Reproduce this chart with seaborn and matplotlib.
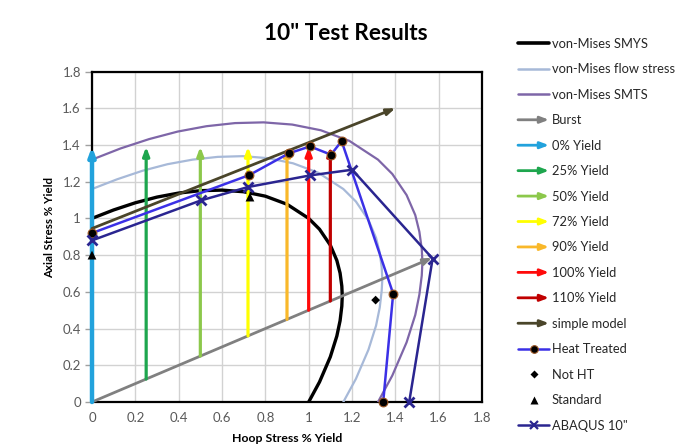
import matplotlib
matplotlib.use("Agg")
import matplotlib.pyplot as plt
import matplotlib.patches as mpatches
from matplotlib.lines import Line2D
from matplotlib.legend_handler import HandlerBase
import pandas as pd
import seaborn as sns

# ---------------- data ----------------
smys_x = [0.0, 0.1, 0.2, 0.3, 0.4, 0.5, 0.6, 0.7, 0.8, 0.9, 1.0, 1.05, 1.1, 1.13, 1.145, 1.153, 1.155,
          1.153, 1.145, 1.13, 1.1, 1.05, 1.0]
smys_y = [1.0, 1.046, 1.085, 1.116, 1.138, 1.151, 1.154, 1.145, 1.121, 1.077, 1.0, 0.941, 0.854, 0.771,
          0.702, 0.631, 0.577, 0.522, 0.443, 0.359, 0.246, 0.109, 0.0]

flow_x = [0.0, 0.116, 0.232, 0.348, 0.464, 0.58, 0.696, 0.812, 0.928, 1.044, 1.16, 1.218, 1.276, 1.311,
          1.328, 1.337, 1.34, 1.337, 1.328, 1.311, 1.276, 1.218, 1.16]
flow_y = [1.16, 1.213, 1.259, 1.295, 1.32, 1.335, 1.339, 1.328, 1.3, 1.249, 1.16, 1.092, 0.991, 0.894,
          0.814, 0.732, 0.67, 0.606, 0.514, 0.416, 0.285, 0.126, 0.0]

smts_x = [0.0, 0.132, 0.264, 0.396, 0.528, 0.66, 0.792, 0.924, 1.056, 1.188, 1.32, 1.386, 1.452, 1.492,
          1.511, 1.522, 1.525, 1.522, 1.511, 1.492, 1.452, 1.386, 1.32]
smts_y = [1.32, 1.381, 1.432, 1.473, 1.502, 1.519, 1.523, 1.511, 1.48, 1.422, 1.32, 1.242, 1.127, 1.018,
          0.927, 0.833, 0.762, 0.689, 0.585, 0.474, 0.325, 0.144, 0.0]

burst_x = [0.0, 1.57]
burst_y = [0.0, 0.785]

yield_labels = ["0% Yield", "25% Yield", "50% Yield", "72% Yield", "90% Yield", "100% Yield", "110% Yield"]
yield_x = [0.0, 0.25, 0.5, 0.72, 0.9, 1.0, 1.1]
yield_y0 = [0.0, 0.125, 0.25, 0.36, 0.45, 0.5, 0.55]
yield_y1 = [1.39, 1.39, 1.39, 1.39, 1.39, 1.39, 1.39]

simple_x = [0.0, 1.4]
simple_y = [0.945, 1.6]

ht_x = [0.0, 0.726, 0.908, 1.006, 1.103, 1.152, 1.39, 1.344]
ht_y = [0.92, 1.236, 1.354, 1.392, 1.347, 1.421, 0.59, 0.0]

notht_x = [1.309]
notht_y = [0.555]

std_x = [0.0, 0.729]
std_y = [0.80, 1.116]

abaqus_x = [0.0, 0.503, 0.721, 1.006, 1.201, 1.572, 1.464]
abaqus_y = [0.88, 1.098, 1.171, 1.234, 1.265, 0.781, 0.0]

tick_vals = [0.0, 0.2, 0.4, 0.6, 0.8, 1.0, 1.2, 1.4, 1.6, 1.8]
tick_labels = ["0", "0.2", "0.4", "0.6", "0.8", "1", "1.2", "1.4", "1.6", "1.8"]

title = "10\" Test Results"
xlabel = "Hoop Stress % Yield"
ylabel = "Axial Stress % Yield"

# ---------------- style ----------------
sns.set_theme(style="white")
plt.rcParams["font.family"] = ["Lato", "DejaVu Sans"]

c_smys = "#000000"
c_flow = "#A7B9D8"
c_smts = "#7E66A8"
c_burst = "#808080"
yield_colors = ["#22A2DC", "#1EA64E", "#8CC84B", "#FFFF00", "#F9B82A", "#FF0A0A", "#C00000"]
yield_lw = [3.2, 2.3, 2.3, 2.3, 2.3, 2.3, 2.3]
c_simple = "#4A452A"
c_ht = "#3B30E6"
c_abq = "#2A2590"
c_ht_edge = "#9A5523"

ARROWSTYLE = "-|>,head_length=1.0,head_width=0.38"

fig = plt.figure(figsize=(6.85, 4.45), dpi=100)
ax = fig.add_axes([92 / 685, 1 - 402 / 445, (482 - 92) / 685, (402 - 71.5) / 445])


def curve(x, y, color, lw, z):
    df = pd.DataFrame({"x": x, "y": y})
    sns.lineplot(data=df, x="x", y="y", sort=False, estimator=None, color=color, lw=lw, ax=ax,
                 zorder=z, legend=False)


curve(smys_x, smys_y, c_smys, 2.4, 3)
curve(flow_x, flow_y, c_flow, 1.6, 3)
curve(smts_x, smts_y, c_smts, 1.6, 3)


def arrow(x0, y0, x1, y1, color, lw, z, ms=5):
    ax.annotate("", xy=(x1, y1), xytext=(x0, y0), xycoords="data", textcoords="data",
                arrowprops=dict(arrowstyle=ARROWSTYLE, color=color, lw=lw,
                                shrinkA=0, shrinkB=0, mutation_scale=ms),
                zorder=z, annotation_clip=False)


arrow(burst_x[0], burst_y[0], burst_x[1], burst_y[1], c_burst, 2.0, 4)
for x, y0, y1, c, lw in zip(yield_x, yield_y0, yield_y1, yield_colors, yield_lw):
    arrow(x, y0, x, y1, c, lw, 4)
arrow(simple_x[0], simple_y[0], simple_x[1], simple_y[1], c_simple, 2.0, 5)

df_ht = pd.DataFrame({"x": ht_x, "y": ht_y})
sns.lineplot(data=df_ht, x="x", y="y", sort=False, estimator=None, color=c_ht, lw=1.8, ax=ax, zorder=6,
             marker="o", markersize=6.3, markerfacecolor="#000000", markeredgecolor=c_ht_edge,
             markeredgewidth=0.8, legend=False, clip_on=False)

sns.scatterplot(x=notht_x, y=notht_y, marker="D", s=20, color="#000000", edgecolor="none", ax=ax,
                zorder=7, legend=False, clip_on=False)
sns.scatterplot(x=std_x, y=std_y, marker="^", s=40, color="#000000", edgecolor="none", ax=ax,
                zorder=7, legend=False, clip_on=False)

df_abq = pd.DataFrame({"x": abaqus_x, "y": abaqus_y})
sns.lineplot(data=df_abq, x="x", y="y", sort=False, estimator=None, color=c_abq, lw=1.8, ax=ax, zorder=8,
             marker="x", markersize=7, markeredgewidth=2.0, markeredgecolor=c_abq, legend=False,
             clip_on=False)

# ---------------- axes ----------------
ax.set_xlim(0, 1.8)
ax.set_ylim(0, 1.8)
ax.set_xticks(tick_vals)
ax.set_yticks(tick_vals)
ax.set_xticklabels(tick_labels)
ax.set_yticklabels(tick_labels)
ax.set_xlabel("")
ax.set_ylabel("")
ax.grid(True, color="#D2D2D2", lw=1.0)
ax.set_axisbelow(True)
for s in ax.spines.values():
    s.set_color("#000000")
    s.set_linewidth(1.6)
    s.set_visible(True)
ax.tick_params(axis="x", length=0, pad=7, labelsize=9.5, labelcolor="#595959")
ax.tick_params(axis="y", length=5, width=1, color="#A0A0A0", pad=3, labelsize=9.5, labelcolor="#595959",
               left=True)

fig.text(346 / 685, 1 - 33 / 445, title, ha="center", va="center", fontsize=16.3, fontweight="bold",
         color="#000000")
fig.text(287 / 685, 1 - 444 / 445, xlabel, ha="center", va="bottom", fontsize=8.8, fontweight="bold",
         color="#000000")
fig.text(50 / 685, 1 - 228 / 445, ylabel, ha="center", va="center", rotation=90, fontsize=8.3,
         fontweight="bold", color="#000000")


# ---------------- legend ----------------
class ArrowHandle(Line2D):
    pass


class HandlerArrow(HandlerBase):
    def create_artists(self, legend, orig_handle, xdescent, ydescent, width, height, fontsize, trans):
        y = (height - ydescent) / 2.0
        p = mpatches.FancyArrowPatch((-xdescent, y), (-xdescent + width, y),
                                     arrowstyle=ARROWSTYLE,
                                     mutation_scale=5, color=orig_handle.get_color(),
                                     lw=orig_handle.get_linewidth(), shrinkA=0, shrinkB=0,
                                     transform=trans)
        return [p]


handles = [
    Line2D([], [], color=c_smys, lw=2.6),
    Line2D([], [], color=c_flow, lw=1.8),
    Line2D([], [], color=c_smts, lw=1.8),
    ArrowHandle([], [], color=c_burst, lw=2.0),
]
for c in yield_colors:
    handles.append(ArrowHandle([], [], color=c, lw=2.0))
handles += [
    ArrowHandle([], [], color=c_simple, lw=2.0),
    Line2D([], [], color=c_ht, lw=1.8, marker="o", markersize=5.5, markerfacecolor="#000000",
           markeredgecolor=c_ht_edge, markeredgewidth=0.8),
    Line2D([], [], color="none", marker="D", markersize=4.2, markerfacecolor="#000000",
           markeredgecolor="none"),
    Line2D([], [], color="none", marker="^", markersize=5.5, markerfacecolor="#000000",
           markeredgecolor="none"),
    Line2D([], [], color=c_abq, lw=1.8, marker="x", markersize=6, markeredgewidth=1.6),
]
labels = ["von-Mises SMYS", "von-Mises flow stress", "von-Mises SMTS", "Burst"] + yield_labels + [
    "simple model", "Heat Treated", "Not HT", "Standard", "ABAQUS 10\""]

leg = fig.legend(handles, labels, loc="upper left", bbox_to_anchor=(518 / 685, 1 - 38 / 445),
                 frameon=False, fontsize=9.3, handlelength=2.4, handletextpad=0.2, labelspacing=1.04,
                 borderpad=0, borderaxespad=0, handler_map={ArrowHandle: HandlerArrow()})
for t in leg.get_texts():
    t.set_color("#262626")

fig.savefig("out.png", dpi=100)
